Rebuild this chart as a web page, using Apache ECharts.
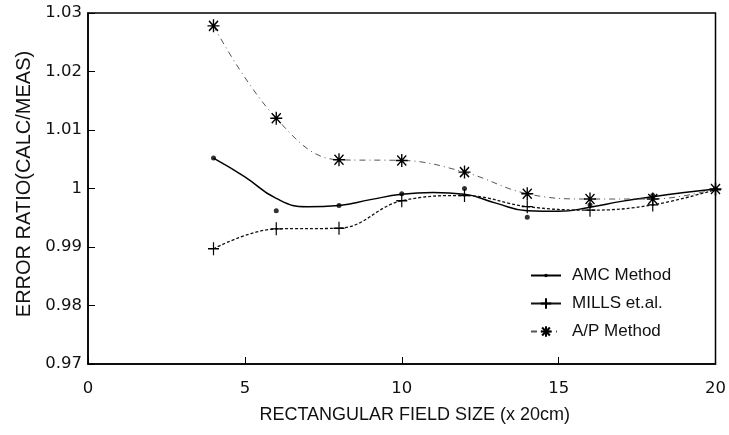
<!DOCTYPE html>
<html>
<head>
<meta charset="utf-8">
<script src="https://cdn.jsdelivr.net/npm/echarts@6/dist/echarts.min.js"></script>
<style>
html,body{margin:0;padding:0;background:#fff;}
#chart{width:729px;height:435px;}
</style>
</head>
<body>
<div id="chart"></div>
<script>
// Field sizes (x 20cm)
var fieldSizes = [4, 6, 8, 10, 12, 14, 16, 18, 20];
// Measured points
var amcPoints   = [1.0052, 0.9962, 0.9971, 0.9991, 1.0000, 0.9951, 0.9972, 0.9988, 0.9999];
var millsPoints = [0.9897, 0.9931, 0.9932, 0.9979, 0.9988, 0.9969, 0.9963, 0.9972, 0.9998];
var apPoints    = [1.0278, 1.0120, 1.0049, 1.0048, 1.0028, 0.9991, 0.9982, 0.9982, 0.9999];
// Fitted AMC curve
var amcFitX = [4, 5, 6, 7, 8, 9, 10, 11, 12, 13, 14, 15, 16, 17, 18, 19, 20];
var amcFitY = [1.0052, 1.0020, 0.9983, 0.9969, 0.9971, 0.9981, 0.9990, 0.9993, 0.9990, 0.9975, 0.9962, 0.9961, 0.9968, 0.9978, 0.9986, 0.9993, 0.9999];
// Axis ticks
var xTicks = [0, 5, 10, 15, 20];
var yTicks = [0.97, 0.98, 0.99, 1, 1.01, 1.02, 1.03];

function pairs(xs, ys) { return xs.map(function (x, i) { return [x, ys[i]]; }); }

var plusPath = 'path://M6 0V14M0 7H12';
var starPath = 'path://M6 0V13M0 6.5H12M1.5 1.5L10.5 11.5M10.5 1.5L1.5 11.5';
// small dot inside a larger (invisible) box, for the legend icon
var dotPath = 'path://M0 0M12 12M4 6A2 2 0 1 1 8 6A2 2 0 1 1 4 6Z';

var chart = echarts.init(document.getElementById('chart'));
chart.setOption({
  animation: false,
  backgroundColor: '#fff',
  grid: { left: 88, right: 13, top: 13, bottom: 71, show: true, borderColor: '#000', borderWidth: 1.5 },
  legend: {
    orient: 'vertical', left: 525, top: 262, itemWidth: 30, itemHeight: 13, itemGap: 11,
    data: [
      { name: 'AMC Method' },
      { name: 'MILLS et.al.', lineStyle: { type: 'solid' } },
      { name: 'A/P Method' }
    ],
    textStyle: { fontFamily: 'Liberation Sans', fontSize: 17, color: '#111', padding: [0, 0, 0, 6] }
  },
  xAxis: {
    type: 'value', min: xTicks[0], max: xTicks[xTicks.length - 1], interval: 5,
    name: 'RECTANGULAR FIELD SIZE (x 20cm)', nameLocation: 'middle', nameGap: 42,
    nameTextStyle: { fontFamily: 'Liberation Sans', fontSize: 18, color: '#111', padding: [0, 0, 0, 26] },
    axisLine: { lineStyle: { color: '#000', width: 1.5 } },
    axisTick: { inside: true, length: 7, lineStyle: { color: '#000' } },
    axisLabel: { fontFamily: 'DejaVu Sans', fontSize: 16.5, color: '#111', margin: 16 },
    splitLine: { show: false }
  },
  yAxis: {
    type: 'value', min: yTicks[0], max: yTicks[yTicks.length - 1], interval: 0.01,
    name: 'ERROR RATIO(CALC/MEAS)', nameLocation: 'middle', nameGap: 51, nameRotate: 90,
    nameTextStyle: { fontFamily: 'Liberation Sans', fontSize: 20, color: '#111', padding: [0, 0, 0, 9] },
    axisLine: { lineStyle: { color: '#000', width: 1.5 } },
    axisTick: { inside: true, length: 7, lineStyle: { color: '#000' } },
    axisLabel: { fontFamily: 'DejaVu Sans', fontSize: 16.5, color: '#111', margin: 6,
      formatter: function (v) { return String(Math.round(v * 100) / 100); } },
    splitLine: { show: false }
  },
  series: [
    {
      name: 'AMC Method', type: 'line', smooth: 0.5, showSymbol: false,
      symbol: dotPath, symbolSize: 12,
      data: pairs(amcFitX, amcFitY),
      lineStyle: { color: '#000', width: 1.5 },
      itemStyle: { color: '#000' }
    },
    {
      name: 'AMC points', type: 'scatter', symbol: 'circle', symbolSize: 5,
      data: pairs(fieldSizes, amcPoints),
      itemStyle: { color: '#000' }
    },
    {
      name: 'MILLS et.al.', type: 'line', smooth: 0.4,
      symbol: plusPath, symbolSize: [11, 13],
      data: pairs(fieldSizes, millsPoints),
      lineStyle: { color: '#111', width: 1.3, type: [3, 2] },
      itemStyle: { color: '#000', borderColor: '#000', borderWidth: 1.3 }
    },
    {
      name: 'A/P Method', type: 'line', smooth: 0.4,
      symbol: starPath, symbolSize: [12, 13],
      data: pairs(fieldSizes, apPoints),
      lineStyle: { color: '#555', width: 1, type: [6, 4, 1, 4] },
      itemStyle: { color: '#000', borderColor: '#000', borderWidth: 1.4 }
    }
  ]
});
</script>
</body>
</html>
